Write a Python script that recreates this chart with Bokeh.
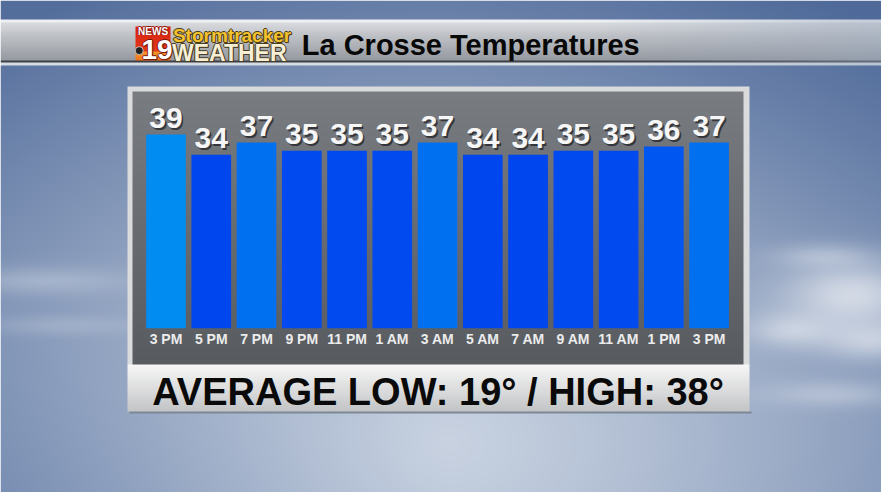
import numpy as np
from bokeh.plotting import figure
from bokeh.models import Range1d, ColumnDataSource
from bokeh.transform import linear_cmap
from bokeh.core.properties import value
from bokeh.embed import file_html
from bokeh.resources import INLINE

# ---------------- data ----------------
times = ["3 PM", "5 PM", "7 PM", "9 PM", "11 PM", "1 AM", "3 AM",
         "5 AM", "7 AM", "9 AM", "11 AM", "1 PM", "3 PM"]
temps = [39, 34, 37, 35, 35, 35, 37, 34, 34, 35, 35, 36, 37]
title = "La Crosse Temperatures"
avg_low = 19
avg_high = 38
footer = f"AVERAGE LOW: {avg_low}\u00b0 / HIGH: {avg_high}\u00b0"

# ---------------- layout / style ----------------
W, H = 881, 492          # figure size (fits window with 8px margin)
SW, SH = 889, 500        # design space (reference pixels)
FIRST_BAR_PX = 167.0
BAR_STEP_PX = 45.67
BAR_W_PX = 40.0
BASE_TEMP = -9.0
BASE_PX = 333.0
PX_PER_DEG = 4.1
BL = 0.27                # baseline correction (fraction of font size)
FONT = value("Liberation Sans")
bar_palette = ["#0046ee", "#004af0", "#0056f0", "#0070f0", "#0080f0", "#008cf0"]


def py(pix):
    return SH - pix


def ty(pix, size):
    return SH - (pix - BL * size)


# ---------------- background image ----------------
xs = np.arange(0, SW) + 0.5
ys = np.arange(0, SH) + 0.5
XX, YY = np.meshgrid(xs, ys)
bright = np.array([200, 210, 225], float)
dark = np.array([84, 110, 156], float)
d = np.sqrt(((XX - 450) / 760) ** 2 + ((YY - 450) / 520) ** 2)
t = np.clip(d, 0, 1) ** 1.2
img = bright * (1 - t[..., None]) + dark * t[..., None]
tr = np.clip(((XX - 450) / 440) * (1 - YY / 300), 0, 1)[..., None] * 0.35
img = img * (1 - tr) + np.array([70, 100, 150]) * tr

for cx, cy, sx, sy, a in [(860, 300, 70, 35, 0.75), (800, 335, 45, 18, 0.55),
                          (880, 345, 50, 20, 0.6), (840, 400, 70, 14, 0.35),
                          (40, 285, 90, 14, 0.3), (830, 260, 50, 12, 0.35),
                          (60, 330, 80, 10, 0.2)]:
    g = (a * np.exp(-(((XX - cx) / sx) ** 2 + ((YY - cy) / sy) ** 2)))[..., None]
    img = img * (1 - g) + np.array([236, 239, 244]) * g


def fill(x0, x1, y0, y1, top, bot=None):
    top = np.array(top, float)
    bot = top if bot is None else np.array(bot, float)
    r0, r1 = max(y0, 0), min(y1, SH)
    c0, c1 = max(x0, 0), min(x1, SW)
    n = r1 - r0
    if n <= 0 or c1 <= c0:
        return
    f = np.linspace(0, 1, n)[:, None, None]
    img[r0:r1, c0:c1] = top * (1 - f) + bot * f


# header band
fill(0, SW, 19, 22, (236, 239, 243))
fill(0, SW, 22, 40, (216, 218, 222), (184, 187, 192))
fill(0, SW, 40, 61, (184, 187, 192), (150, 154, 161))
fill(0, SW, 61, 63, (60, 63, 70))
fill(0, SW, 63, 66, (214, 220, 228))
wt = np.clip((xs - 600) / 280, 0, 1)[None, :, None] * 0.45
img[19:66] = img[19:66] * (1 - wt) + np.array([150, 165, 188]) * wt

# panel
fill(128, 756, 87, 418, (218, 219, 221))
fill(133, 750, 92, 370, (121, 124, 129), (88, 92, 97))
fill(128, 756, 370, 418, (247, 247, 247), (196, 197, 199))
fill(130, 758, 418, 420, (125, 135, 150))

# logo block
fill(136, 172, 26, 52, (214, 34, 20), (228, 58, 24))
fill(136, 172, 52, 61, (246, 152, 42), (238, 118, 30))

img8 = np.clip(img, 0, 255).astype(np.uint8)[::-1]
rgba = np.empty((SH, SW, 4), dtype=np.uint8)
rgba[..., :3] = img8
rgba[..., 3] = 255
img32 = np.ascontiguousarray(rgba).view(dtype=np.uint32).reshape((SH, SW))

# ---------------- figure ----------------
p = figure(width=W, height=H, x_range=Range1d(0, SW), y_range=Range1d(0, SH),
           output_backend="svg", toolbar_location=None, min_border=0,
           x_axis_location=None, y_axis_location=None)
p.grid.visible = False
p.outline_line_color = None
p.background_fill_color = None
p.border_fill_color = None

p.extra_x_ranges = {"idx": Range1d((0 - FIRST_BAR_PX) / BAR_STEP_PX,
                                   (SW - FIRST_BAR_PX) / BAR_STEP_PX)}
p.extra_y_ranges = {"temp": Range1d(BASE_TEMP - (SH - BASE_PX) / PX_PER_DEG,
                                    BASE_TEMP + BASE_PX / PX_PER_DEG)}

p.image_rgba(image=[img32], x=0, y=0, dw=SW, dh=SH)

LBL_SIZE = 30
gap = (8.5 + BL * LBL_SIZE) / PX_PER_DEG
idx = list(range(len(temps)))
src = ColumnDataSource(dict(
    i=idx, temp=temps, label=[str(v) for v in temps], time=times,
    ly=[v + gap for v in temps],
    sx=[i + 1.6 / BAR_STEP_PX for i in idx],
    sy=[v + gap - 1.6 / PX_PER_DEG for v in temps],
))

p.vbar(x="i", top="temp", bottom=BASE_TEMP, width=BAR_W_PX / BAR_STEP_PX, source=src,
       x_range_name="idx", y_range_name="temp",
       fill_color=linear_cmap("temp", bar_palette, 34, 39), line_color=None)

# value labels with shadow
p.text(x="sx", y="sy", text="label", source=src, x_range_name="idx", y_range_name="temp",
       text_font=FONT, text_font_size=f"{LBL_SIZE}px", text_font_style="bold",
       text_color="#202226", text_alpha=0.75, text_align="center", text_baseline="alphabetic")
p.text(x="i", y="ly", text="label", source=src, x_range_name="idx", y_range_name="temp",
       text_font=FONT, text_font_size=f"{LBL_SIZE}px", text_font_style="bold",
       text_color="#f6f6f6", text_align="center", text_baseline="alphabetic")

# time labels
p.text(x="i", y=ty(348, 14), text="time", source=src, x_range_name="idx",
       text_font=FONT, text_font_size="14px", text_font_style="bold",
       text_color="#ececec", text_align="center", text_baseline="alphabetic")

# footer
p.text(x=[441.5], y=[ty(408, 38)], text=[footer], text_font=FONT, text_font_size="38px",
       text_font_style="bold", text_color="#0a0a0a", text_align="center",
       text_baseline="alphabetic")

# title
p.text(x=[304], y=[ty(53, 29)], text=[title], text_font=FONT, text_font_size="29px",
       text_font_style="bold", text_color="#080808", text_align="left",
       text_baseline="alphabetic")


# logo texts
def outlined(x, y, txt, size, color, outline, align="left", style="bold", w=1.0):
    s = float(size.replace("px", ""))
    for dx, dy in [(-w, 0), (w, 0), (0, -w), (0, w), (w, w)]:
        p.text(x=[x + dx], y=[ty(y + dy, s)], text=[txt], text_font=FONT, text_font_size=size,
               text_font_style=style, text_color=outline, text_align=align,
               text_baseline="alphabetic")
    p.text(x=[x], y=[ty(y, s)], text=[txt], text_font=FONT, text_font_size=size,
           text_font_style=style, text_color=color, text_align=align,
           text_baseline="alphabetic")


outlined(154, 34, "NEWS", "10px", "#ffffff", "#8a1a10", align="center", w=0.6)
outlined(158, 57, "19", "28px", "#ffffff", "#7a1a0c", align="center", w=1.0)
p.scatter(x=[140], y=[py(51)], size=8, marker="circle", fill_color="#222222",
          line_color="#dddddd", line_width=0.8)
outlined(174, 41, "Stormtracker", "19px", "#f3c22e", "#4a3a12", w=0.9)
outlined(173, 60, "WEATHER", "23px", "#f6efd6", "#4a3e22", w=1.0)

open("out.html", "w").write(file_html(p, INLINE))
